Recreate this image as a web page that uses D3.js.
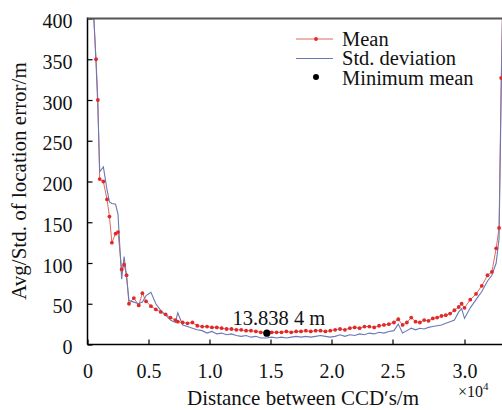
<!DOCTYPE html>
<html>
<head>
<meta charset="utf-8">
<script src="https://cdn.jsdelivr.net/npm/d3@7"></script>
<style>
  body { margin: 0; background: #fff; }
  svg { display: block; }
  svg text { font-family: "Liberation Serif", "Times New Roman", serif !important; fill: #111; }
</style>
</head>
<body>
<svg id="chart" width="502" height="410"></svg>
<script>
// distance between CCD's, in units of 1e4 m
const distances = [
  0.04, 0.07, 0.085, 0.10, 0.13, 0.16, 0.18, 0.20, 0.23, 0.25,
  0.28, 0.30, 0.32, 0.34, 0.38, 0.42, 0.45, 0.48, 0.52, 0.56,
  0.60, 0.64, 0.68, 0.72, 0.74, 0.78, 0.82, 0.86, 0.90, 0.94,
  0.98, 1.02, 1.06, 1.10, 1.14, 1.18, 1.22, 1.26, 1.30, 1.34,
  1.38, 1.42, 1.47, 1.51, 1.55, 1.59, 1.63, 1.67, 1.71, 1.75,
  1.79, 1.83, 1.87, 1.91, 1.95, 1.99, 2.03, 2.07, 2.11, 2.15,
  2.19, 2.23, 2.27, 2.31, 2.35, 2.39, 2.43, 2.47, 2.51, 2.54,
  2.57, 2.60, 2.63, 2.66, 2.69, 2.72, 2.75, 2.78, 2.81, 2.84,
  2.87, 2.90, 2.93, 2.96, 2.98, 3.00, 3.04, 3.08, 3.12, 3.16,
  3.19, 3.22, 3.24, 3.255, 3.265
]
const meanErr = [
  430, 350, 300, 203, 200, 178, 157, 125, 136, 138,
  92, 98, 85, 50, 57, 48, 63, 53, 47, 43,
  40, 37, 33, 30, 28, 27, 26, 27, 23, 22,
  22, 21, 21, 20, 19, 19, 18, 18, 17, 17,
  16, 15, 13.8384, 15, 15, 15, 16, 15, 16, 16,
  17, 16, 17, 17, 16, 17, 18, 19, 18, 20,
  21, 20, 22, 22, 21, 23, 24, 25, 27, 31,
  24, 27, 33, 28, 27, 30, 29, 32, 33, 35,
  36, 38, 42, 46, 50, 45, 55, 62, 72, 85,
  89, 118, 143, 327, 420
]
const stdErr = [
  440, 345, 290, 212, 218, 190, 175, 173, 172, 160,
  80, 108, 84, 54, 52, 50, 52, 60, 64, 50,
  42, 36, 30, 27, 39, 24, 22, 20, 18, 17,
  14, 16, 13, 14, 12, 13, 11, 10, 11, 9,
  10, 8, 8, 9, 8, 9, 8, 9, 10, 9,
  10, 9, 10, 11, 10, 9, 10, 12, 10, 12,
  11, 13, 12, 14, 13, 15, 14, 16, 17, 25,
  14, 17, 20, 18, 20, 19, 21, 22, 23, 24,
  26, 28, 30, 40, 44, 32, 45, 55, 65, 78,
  85, 100, 130, 310, 420
]
const xTicks = [0, 0.5, 1.0, 1.5, 2.0, 2.5, 3.0]
const yTicks = [0, 50, 100, 150, 200, 250, 300, 350, 400]
const minIndex = 42
const legendItems = ["Mean", "Std. deviation", "Minimum mean"]

const meanColor = "#e0685e"
const meanDot = "#e02a2a"
const stdColor = "#6b78b6"
const serif = '"Liberation Serif", "Times New Roman", serif'

const svg = d3.select("#chart")
const plotLeft = 87.5, plotRight = 502, plotTop = 18.5, plotBottom = 344.5

// the original figure is not evenly spaced beyond 2.5, so piecewise
const x = d3.scaleLinear().domain([0, 2.5, 3.0, 3.3]).range([plotLeft, 392.5, 464.5, 507.7])
const y = d3.scaleLinear().domain([0, 400]).range([plotBottom, plotTop])

svg.append("clipPath").attr("id", "plotClip")
  .append("rect").attr("x", plotLeft).attr("y", plotTop)
  .attr("width", plotRight - plotLeft).attr("height", plotBottom - plotTop)

const plot = svg.append("g").attr("clip-path", "url(#plotClip)")

const line = d3.line().x((d, i) => x(distances[i])).y(d => y(d))

plot.append("path").datum(meanErr)
  .attr("d", line).attr("fill", "none").attr("stroke", meanColor).attr("stroke-width", 1)

plot.append("path").datum(stdErr)
  .attr("d", line).attr("fill", "none").attr("stroke", stdColor).attr("stroke-width", 1.1)

plot.selectAll("circle.m").data(meanErr).enter().append("circle")
  .attr("class", "m")
  .attr("cx", (d, i) => x(distances[i])).attr("cy", d => y(d))
  .attr("r", 1.9).attr("fill", meanDot)

// minimum mean marker
svg.append("circle")
  .attr("cx", x(distances[minIndex])).attr("cy", y(meanErr[minIndex]))
  .attr("r", 3.6).attr("fill", "#000")
svg.append("text")
  .attr("x", x(distances[minIndex]) + 12).attr("y", 325)
  .attr("text-anchor", "middle").style("font-size", "20.5px")
  .text("13.838 4 m")

// axes, ticks pointing inward
const xAxis = svg.append("g").attr("transform", `translate(0,${plotBottom})`)
  .call(d3.axisBottom(x).tickValues(xTicks).tickSize(-5).tickPadding(19)
    .tickFormat(d => d === 0 ? "0" : d.toFixed(1)))
const yAxis = svg.append("g").attr("transform", `translate(${plotLeft},0)`)
  .call(d3.axisLeft(y).tickValues(yTicks).tickSize(-5).tickPadding(15))

;[xAxis, yAxis].forEach(g => {
  g.attr("font-family", null).attr("font-size", null)
  g.select(".domain").attr("stroke", "#000").attr("stroke-width", 1.5)
  g.selectAll(".tick line").attr("stroke", "#000").attr("stroke-width", 1.2)
  g.selectAll(".tick text").style("font-size", "20px").style("font-family", serif).attr("fill", "#111")
})
yAxis.selectAll(".tick text").attr("dy", "0.45em")
xAxis.select(".domain").attr("d", `M${plotLeft},0H${plotRight}`)
yAxis.select(".domain").attr("d", `M0,${plotBottom}V${plotTop - 1}`)

// top frame line
svg.append("line")
  .attr("x1", plotLeft).attr("x2", plotRight).attr("y1", plotTop).attr("y2", plotTop)
  .attr("stroke", "#555").attr("stroke-width", 2)

// axis titles
svg.append("text")
  .attr("x", 303).attr("y", 405)
  .attr("text-anchor", "middle").style("font-size", "21px")
  .text("Distance between CCD\u2032s/m")
svg.append("text")
  .attr("transform", "translate(26,181) rotate(-90)")
  .attr("text-anchor", "middle").style("font-size", "21px")
  .text("Avg/Std. of location error/m")

const mult = svg.append("text").attr("x", 458).attr("y", 397).style("font-size", "16px")
mult.append("tspan").text("\u00d710")
mult.append("tspan").attr("dy", -7).style("font-size", "11px").text("4")

// legend
const legend = svg.append("g")
legendItems.forEach((label, i) => {
  const ly = 39 + i * 19.5
  legend.append("text").attr("x", 342).attr("y", ly + 6.5).style("font-size", "20.5px").text(label)
})
legend.append("line").attr("x1", 296).attr("x2", 333).attr("y1", 39).attr("y2", 39)
  .attr("stroke", meanColor).attr("stroke-width", 1)
legend.append("circle").attr("cx", 316).attr("cy", 39).attr("r", 1.9).attr("fill", meanDot)
legend.append("line").attr("x1", 296).attr("x2", 333).attr("y1", 58.5).attr("y2", 58.5)
  .attr("stroke", stdColor).attr("stroke-width", 1.1)
legend.append("circle").attr("cx", 316).attr("cy", 77).attr("r", 3).attr("fill", "#000")
</script>
</body>
</html>
